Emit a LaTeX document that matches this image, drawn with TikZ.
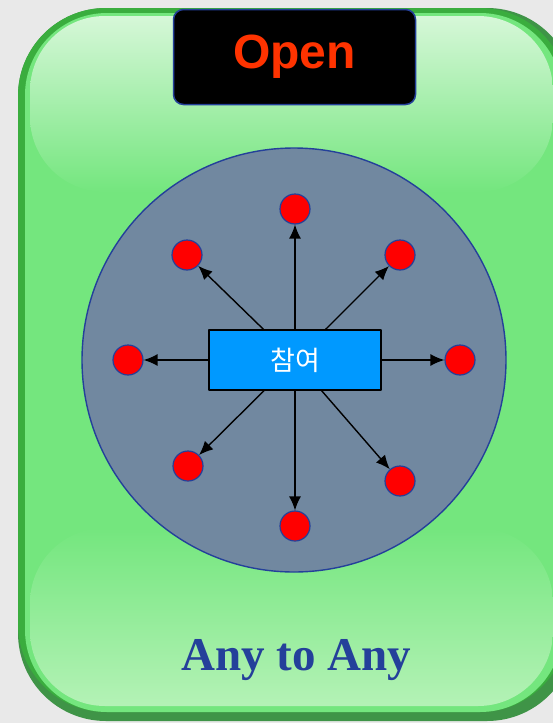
\documentclass[tikz,border=0pt]{standalone}
\usepackage{fontspec}
\setmainfont{Liberation Serif}
\newfontfamily\arialfont{Liberation Sans}
\newfontfamily\krfont{Noto Sans CJK KR}
\usetikzlibrary{arrows.meta}
\definecolor{bgGray}{HTML}{E9E9E9}
\definecolor{frameDark}{HTML}{3F9447}
\definecolor{frameSide}{HTML}{3AAD3E}
\definecolor{faceGreen}{HTML}{74E67E}
\definecolor{glossTop}{HTML}{D6F7D8}
\definecolor{glossBot}{HTML}{B4F2B6}
\definecolor{edgeBlue}{HTML}{24409A}
\definecolor{slate}{HTML}{7188A0}
\definecolor{boxBlue}{HTML}{0099FF}
\definecolor{openRed}{HTML}{FF3300}

\begin{document}
\begin{tikzpicture}[x=1pt, y=-1pt, line join=round, >={Latex[length=14pt,width=12pt]},
	dot/.style={circle, fill=red, draw=edgeBlue, line width=1.2pt, minimum size=30pt, inner sep=0pt},
	arr/.style={->, line width=1.4pt, black}
	]
	% background
	\fill[bgGray] (0,0) rectangle (553,723);
	\useasboundingbox (0,0) rectangle (553,723);
	% frame
	\fill[frameDark, rounded corners=88pt] (18,8) rectangle (575,721);
	\fill[frameSide, rounded corners=88pt] (18,8) rectangle (568,712);
	\fill[faceGreen, rounded corners=82pt] (25,13) rectangle (562,712);
	\shade[top color=glossTop, bottom color=faceGreen, rounded corners=75pt] (30,16) rectangle (553,192);
	\shade[top color=faceGreen, bottom color=glossBot, rounded corners=75pt] (30,528) rectangle (553,706);
	% title
	\node[fill=black, draw=edgeBlue, line width=1.5pt, rounded corners=10pt,
		minimum width=242pt, minimum height=95pt, text=openRed,
		font=\arialfont\bfseries\fontsize{48}{48}\selectfont] (title) at (294.5,57) {Open};
	% circle
	\node[circle, fill=slate, draw=edgeBlue, line width=1.4pt, minimum size=424pt] (ring) at (294,360) {};
	% dots
	\node[dot] (dN) at (295,209) {};
	\node[dot] (dNW) at (187,255) {};
	\node[dot] (dNE) at (400,255) {};
	\node[dot] (dW) at (128,360) {};
	\node[dot] (dE) at (460,360) {};
	\node[dot] (dSW) at (188,466) {};
	\node[dot] (dSE) at (400,481) {};
	\node[dot] (dS) at (295,526) {};
	% center box
	\node[fill=boxBlue, draw=black, line width=1.4pt, minimum width=172pt, minimum height=60pt,
		text=white, font=\krfont\fontsize{27}{27}\selectfont] (join) at (295,360) {참여};
	% arrows
	\foreach \d in {dN,dNW,dNE,dW,dE,dSW,dSE,dS}
		\draw[arr] (join) -- (\d);
	% bottom text
	\node[text=edgeBlue, font=\bfseries\fontsize{47}{47}\selectfont] (any) at (296,660) {Any to Any};
\end{tikzpicture}
\end{document}
